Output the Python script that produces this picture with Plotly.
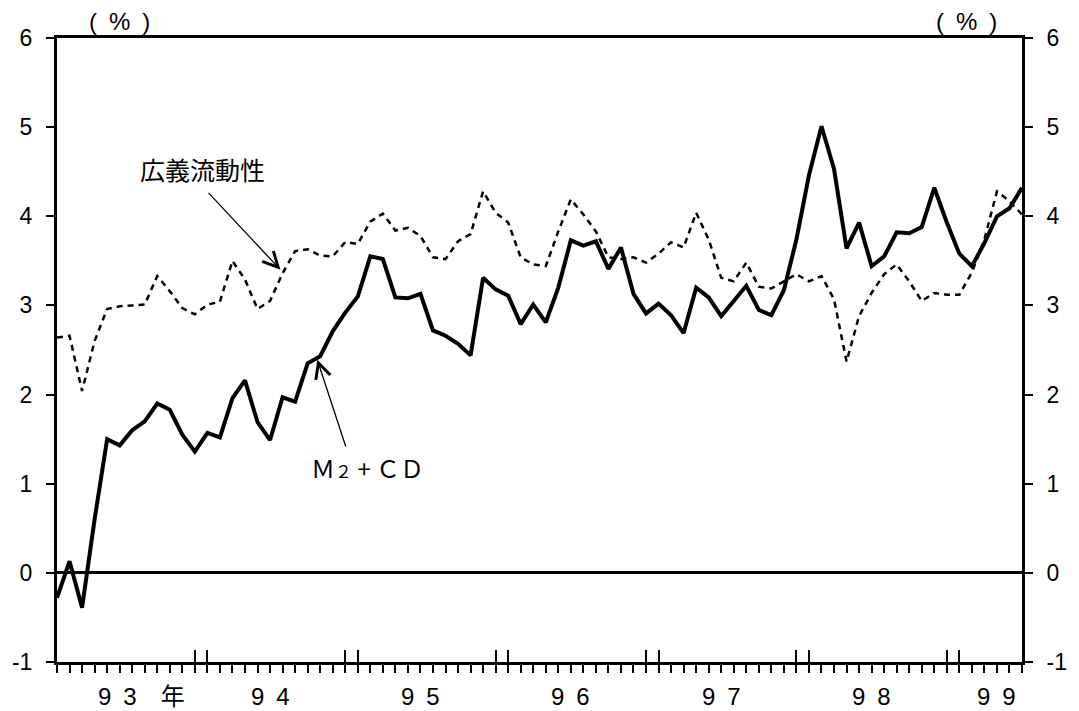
import plotly.graph_objects as go

# Monthly series, Jan 1993 - Jun 1999 (year-on-year %, index 0 = 1993/1)
months = list(range(78))

m2cd = [
    -0.28, 0.13, -0.39, 0.60, 1.50, 1.43, 1.60, 1.70, 1.90, 1.83, 1.55, 1.36,
    1.57, 1.52, 1.96, 2.16, 1.69, 1.49, 1.97, 1.92, 2.35, 2.43, 2.71, 2.92,
    3.10, 3.55, 3.52, 3.09, 3.08, 3.13, 2.72, 2.66, 2.57, 2.44, 3.31, 3.18,
    3.11, 2.79, 3.01, 2.81, 3.20, 3.73, 3.67, 3.72, 3.41, 3.65, 3.13, 2.91,
    3.02, 2.89, 2.69, 3.20, 3.09, 2.88, 3.05, 3.22, 2.95, 2.89, 3.17, 3.74,
    4.46, 5.01, 4.53, 3.64, 3.93, 3.44, 3.55, 3.82, 3.81, 3.88, 4.32, 3.93,
    3.58, 3.44, 3.70, 4.00, 4.09, 4.32,
]

broad_liquidity = [
    2.64, 2.66, 2.04, 2.60, 2.96, 2.99, 3.00, 3.01, 3.33, 3.16, 2.97, 2.90,
    3.01, 3.04, 3.50, 3.29, 2.96, 3.05, 3.36, 3.61, 3.63, 3.56, 3.55, 3.71,
    3.69, 3.94, 4.03, 3.84, 3.87, 3.78, 3.54, 3.52, 3.72, 3.80, 4.28, 4.04,
    3.93, 3.54, 3.46, 3.44, 3.83, 4.19, 4.02, 3.83, 3.54, 3.52, 3.54, 3.48,
    3.58, 3.71, 3.65, 4.04, 3.74, 3.31, 3.27, 3.48, 3.21, 3.19, 3.27, 3.35,
    3.27, 3.33, 3.07, 2.37, 2.88, 3.14, 3.35, 3.46, 3.27, 3.05, 3.14, 3.12,
    3.12, 3.37, 3.74, 4.28, 4.17, 4.02,
]

# Year-boundary ticks (December / January pairs)
year_break_ticks = [11, 12, 23, 24, 35, 36, 47, 48, 59, 60, 71, 72]
year_labels = ["9\u20023\u2003年", "9\u20024", "9\u20025", "9\u20026",
               "9\u20027", "9\u20028", "9\u20029"]
year_label_pos = [6.74, 17, 29, 41, 53, 65, 75]

y_ticks = [-1, 0, 1, 2, 3, 4, 5, 6]
y_tick_text = ["-1", "0", "1", "2", "3", "4", "5", "6"]

CJK = "Noto Sans CJK JP"
LATIN = "Liberation Sans, Arial, sans-serif"
MIXED = "Liberation Sans, Noto Sans CJK JP, sans-serif"

fig = go.Figure()

fig.add_trace(go.Scatter(
    x=months, y=broad_liquidity, mode="lines",
    line=dict(color="black", width=2.5, dash="6px,5px"),
    showlegend=False, hoverinfo="skip",
))
fig.add_trace(go.Scatter(
    x=months, y=m2cd, mode="lines",
    line=dict(color="black", width=4),
    showlegend=False, hoverinfo="skip",
))
# Empty traces so the secondary axes (year ticks, right labels) get drawn
fig.add_trace(go.Scatter(x=[], y=[], xaxis="x2", yaxis="y",
                         showlegend=False, hoverinfo="skip"))
fig.add_trace(go.Scatter(x=[], y=[], xaxis="x", yaxis="y2",
                         showlegend=False, hoverinfo="skip"))

axis_common = dict(showgrid=False, color="black")
ytick_common = dict(
    range=[-1, 6], tickvals=y_ticks, ticktext=y_tick_text, ticks="outside",
    ticklen=8, tickwidth=2, tickcolor="black",
    tickfont=dict(family=LATIN, size=23),
    showline=True, linewidth=3, linecolor="black", ticklabelstandoff=9,
)

fig.update_layout(
    width=1079, height=711, autosize=False,
    margin=dict(l=53, r=47, t=38, b=49),
    paper_bgcolor="white", plot_bgcolor="white",
    font=dict(family=LATIN, color="black", size=22),
    xaxis=dict(
        **axis_common, range=[0, 77], tickvals=months, ticks="outside",
        ticklen=8, tickwidth=2, tickcolor="black", showticklabels=False,
        showline=True, linewidth=3, linecolor="black", mirror=True,
        zeroline=False,
    ),
    xaxis2=dict(
        **axis_common, range=[0, 77], overlaying="x", anchor="y",
        side="bottom", tickvals=year_break_ticks, ticks="inside",
        ticklen=12, tickwidth=2, tickcolor="black", showticklabels=False,
        showline=False, zeroline=False,
    ),
    yaxis=dict(
        **axis_common, **ytick_common,
        zeroline=True, zerolinecolor="black", zerolinewidth=2.5,
    ),
    yaxis2=dict(
        **axis_common, **ytick_common, overlaying="y", side="right",
        anchor="x", zeroline=False,
    ),
)

annotations = []

# Year labels under the axis
for lab, pos in zip(year_labels, year_label_pos):
    annotations.append(dict(
        x=pos, y=-0.055, xref="x", yref="paper", text=lab, showarrow=False,
        font=dict(family=MIXED, size=24), xanchor="center", yanchor="middle",
    ))

# Unit labels above both axes
for xpos in (4.98, 72.6):
    annotations.append(dict(
        x=xpos, y=1.027, xref="x", yref="paper", text="(\u2002%\u2002)",
        showarrow=False, font=dict(family=LATIN, size=24),
        xanchor="center", yanchor="middle",
    ))

# Series labels with pointer arrows
annotations.append(dict(
    x=11.59, y=4.53, xref="x", yref="y", text="広義流動性", showarrow=False,
    font=dict(family=CJK, size=25), xanchor="center", yanchor="middle",
))
annotations.append(dict(
    x=17.83, y=3.40, ax=11.98, ay=4.28, xref="x", yref="y",
    axref="x", ayref="y", text="", showarrow=True,
    arrowhead=5, arrowsize=2.3, arrowwidth=1.3, arrowcolor="black",
))
annotations.append(dict(
    x=24.8, y=1.18, xref="x", yref="y",
    text="Ｍ<span style='font-size:17px'>２</span> + ＣＤ", showarrow=False,
    font=dict(family=CJK, size=24), xanchor="center", yanchor="middle",
))
annotations.append(dict(
    x=20.77, y=2.39, ax=23.08, ay=1.40, xref="x", yref="y",
    axref="x", ayref="y", text="", showarrow=True,
    arrowhead=5, arrowsize=2.3, arrowwidth=1.3, arrowcolor="black",
))

fig.update_layout(annotations=annotations)

fig.write_html("out.html")
